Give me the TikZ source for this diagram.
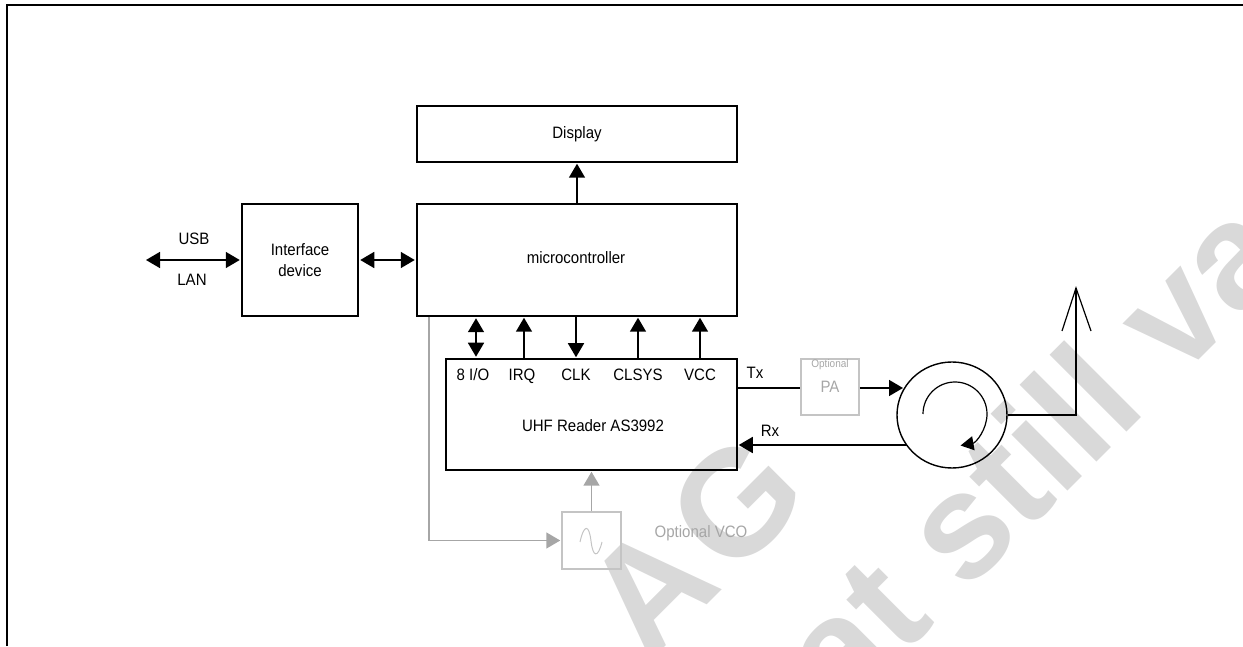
\documentclass[tikz,border=0pt]{standalone}
\usepackage{fontspec}
\setmainfont[FakeStretch=0.91]{Liberation Sans}
\newfontfamily\markfont{Liberation Sans}
\usetikzlibrary{arrows.meta,positioning,shapes.geometric}
\definecolor{OptGray}{HTML}{A6A6A6}
\definecolor{OptBox}{HTML}{C4C4C4}
\definecolor{MarkGray}{HTML}{D9D9D9}
\tikzset{
	block/.style={draw, line width=1.5pt, inner sep=0pt, align=center},
	optbox/.style={draw=OptBox, line width=1.5pt, inner sep=0pt, text=OptGray},
	lbl/.style={inner sep=0pt},
	optlbl/.style={inner sep=0pt, text=OptGray},
	wire/.style={line width=1.6pt, -{Triangle[length=14pt,width=16pt]}, shorten >=1pt},
	dwire/.style={line width=1.6pt, {Triangle[length=14pt,width=16pt]}-{Triangle[length=14pt,width=16pt]}, shorten >=1.5pt, shorten <=1.5pt},
	optwire/.style={OptGray, line width=1.6pt, -{Triangle[length=14pt,width=16pt]}, shorten >=1pt},
	wmark/.style={inner sep=0pt, text=MarkGray, rotate=45, anchor=base west, font=\fontsize{150}{150}\selectfont\markfont\bfseries}
}
\begin{document}
\begin{tikzpicture}[x=1pt,y=1pt,every node/.append style={font=\fontsize{16.5}{21}\selectfont}]
	\useasboundingbox (0,0) rectangle (1243,646);
	% watermark
	\begin{scope}
		\clip (0,0) rectangle (1243,646);
		\node[wmark] (markag) at (648,-18) {A\hspace{10pt}G};
		\node[wmark] (markval) at (842,-71) {at still va};
	\end{scope}
	\draw[line width=1.6pt] (7,0) -- (7,641) -- (1243,641);
	% blocks
	\node[block, minimum width=320pt, minimum height=56pt] (display) at (577,512) {};
	\node[lbl] (displaylbl) at (577,512) {Display};
	\node[block, minimum width=320pt, minimum height=112pt] (micro) at (577,386) {};
	\node[lbl] (microlbl) at (576,388) {microcontroller};
	\node[block, minimum width=116pt, minimum height=112pt] (iface) at (300,386) {Interface\\device};
	\node[block, minimum width=291pt, minimum height=111pt] (uhf) at (591.5,231.5) {};
	\node[lbl] (uhflbl) at (593,220) {UHF Reader AS3992};
	\node[optbox, minimum width=59pt, minimum height=57pt] (vco) at (591.5,105.5) {};
	\node[optbox, minimum width=58pt, minimum height=56pt] (pa) at (830,259) {PA};
	\node[draw, ellipse, line width=1.4pt, minimum width=110pt, minimum height=106pt, inner sep=0pt] (circ) at (952,231) {};
	% pins between reader and controller
	\foreach \x/\lx/\name/\txt in {476/473/io/{8 I/O},524/522/irq/IRQ,576/576/clk/CLK,638/638/clsys/CLSYS,700/700/vcc/VCC}
	{
		\coordinate (p\name) at (\x,340);
		\node[lbl, anchor=base] (l\name) at (\lx,265.5) {\txt};
	}
	\draw[dwire] (uhf.north -| pio) -- (micro.south -| pio);
	\draw[wire] (uhf.north -| pirq) -- (micro.south -| pirq);
	\draw[wire] (micro.south -| pclk) -- (uhf.north -| pclk);
	\draw[wire] (uhf.north -| pclsys) -- (micro.south -| pclsys);
	\draw[wire] (uhf.north -| pvcc) -- (micro.south -| pvcc);
	\draw[wire] (micro.north) -- (display.south);
	\draw[dwire] (iface.east) -- (micro.west);
	% left port
	\coordinate (port) at (144.5,386);
	\draw[dwire] (port) -- (iface.west);
	\node[lbl] (usb) at (194,407) {USB};
	\node[lbl] (lan) at (192,366) {LAN};
	% rf path
	\coordinate (txin) at (904,258);
	\draw[line width=1.6pt] (uhf.east |- txin) -- (pa.west |- txin);
	\draw[wire] (pa.east |- txin) -- (txin);
	\coordinate (rxout) at (907,201);
	\draw[wire] (rxout) -- (uhf.east |- rxout);
	\node[lbl] (tx) at (755,273) {Tx};
	\node[lbl] (rx) at (770,215) {Rx};
	\node[optlbl, font=\fontsize{11}{12}\selectfont] (paopt) at (830,281) {Optional};
	% antenna
	\coordinate (anttop) at (1076,358);
	\coordinate (antl) at (1062,315);
	\coordinate (antr) at (1091,315);
	\draw[line width=1.2pt] (circ.east) -| (anttop);
	\draw[line width=1.2pt] (antl) -- (anttop) -- (antr);
	% inner rotation arrow
	\draw[line width=1.2pt, -{Triangle[length=13pt,width=14pt]}] (923,232) arc[start angle=180, end angle=-80, radius=32];
	% optional oscillator
	\coordinate (tap) at (429,316);
	\draw[optwire] (micro.south -| tap) |- (vco.west);
	\draw[optwire] (vco.north) -- (uhf.south -| vco.north);
	\draw[OptBox, line width=1pt] (580,104) .. controls (584,122) and (589,122) .. (591,105) .. controls (593,88) and (598,88) .. (602,104);
	\node[optlbl] (vcolbl) at (701,113) {Optional VCO};
\end{tikzpicture}
\end{document}
